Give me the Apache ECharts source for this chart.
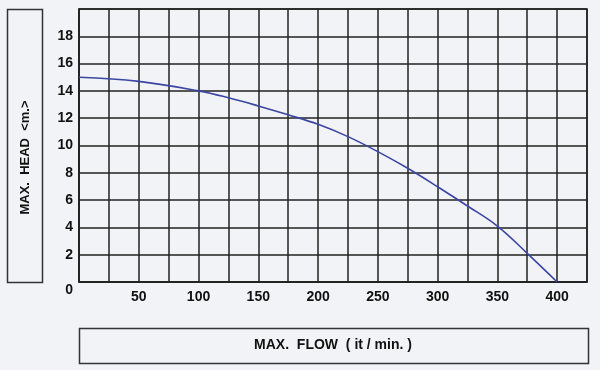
<!DOCTYPE html>
<html>
<head>
<meta charset="utf-8">
<script src="https://cdn.jsdelivr.net/npm/echarts@6/dist/echarts.min.js"></script>
<style>
html,body{margin:0;padding:0;background:#f2f3f7;}
#c{width:600px;height:370px;}
</style>
</head>
<body>
<div id="c"></div>
<script>
const flow = [0, 50, 100, 125, 150, 175, 200, 225, 250, 275, 300, 325, 350, 375, 400];
const head = [15.0, 14.7, 14.0, 13.5, 12.9, 12.25, 11.55, 10.65, 9.55, 8.33, 6.98, 5.57, 4.1, 2.1, 0.0];
const xTitle = 'MAX.  FLOW  ( it / min. )';
const yTitle = 'MAX.  HEAD  <m.>';

const chart = echarts.init(document.getElementById('c'));
const font = 'Liberation Sans, Arial, sans-serif';
chart.setOption({
  backgroundColor: '#f2f3f7',
  animation: false,
  grid: {left: 79, top: 9, right: 13, bottom: 88, show: true, borderColor: '#222', borderWidth: 1.5},
  graphic: [
    {type: 'rect', shape: {x: 7.5, y: 9.5, width: 35, height: 273}, style: {fill: 'none', stroke: '#333', lineWidth: 1.5}},
    {type: 'rect', shape: {x: 79.5, y: 328.5, width: 509, height: 35}, style: {fill: 'none', stroke: '#333', lineWidth: 1.5}}
  ],
  xAxis: {
    type: 'value', min: 0, max: 425, interval: 25,
    axisLine: {show: true, lineStyle: {color: '#222', width: 1.5}},
    axisTick: {show: false},
    splitLine: {show: true, lineStyle: {color: '#222', width: 1.5}},
    axisLabel: {
      margin: 8, color: '#111', fontFamily: font, fontWeight: 'bold', fontSize: 14,
      formatter: v => (v > 0 && v % 50 === 0) ? String(v) : ''
    },
    name: xTitle, nameLocation: 'middle', nameGap: 56,
    nameTextStyle: {color: '#111', fontFamily: font, fontWeight: 'bold', fontSize: 14}
  },
  yAxis: {
    type: 'value', min: 0, max: 20, interval: 2,
    axisLine: {show: true, lineStyle: {color: '#222', width: 1.5}},
    axisTick: {show: false},
    splitLine: {show: true, lineStyle: {color: '#222', width: 1.5}},
    axisLabel: {
      margin: 6, color: '#111', fontFamily: font, fontWeight: 'bold', fontSize: 14,
      formatter: v => v === 20 ? '' : (v === 0 ? '{z|0}' : String(v)),
      rich: {z: {fontFamily: font, fontWeight: 'bold', fontSize: 14, color: '#111', padding: [16, 0, 0, 0]}}
    },
    name: yTitle, nameLocation: 'middle', nameGap: 47, nameRotate: 90,
    nameTextStyle: {color: '#111', fontFamily: font, fontWeight: 'bold', fontSize: 13, padding: [0, 24, 0, 0]}
  },
  series: [{
    type: 'line', smooth: 0.4, symbol: 'none',
    data: flow.map((f, i) => [f, head[i]]),
    lineStyle: {color: '#3b46a3', width: 1.6}
  }]
});
</script>
</body>
</html>
